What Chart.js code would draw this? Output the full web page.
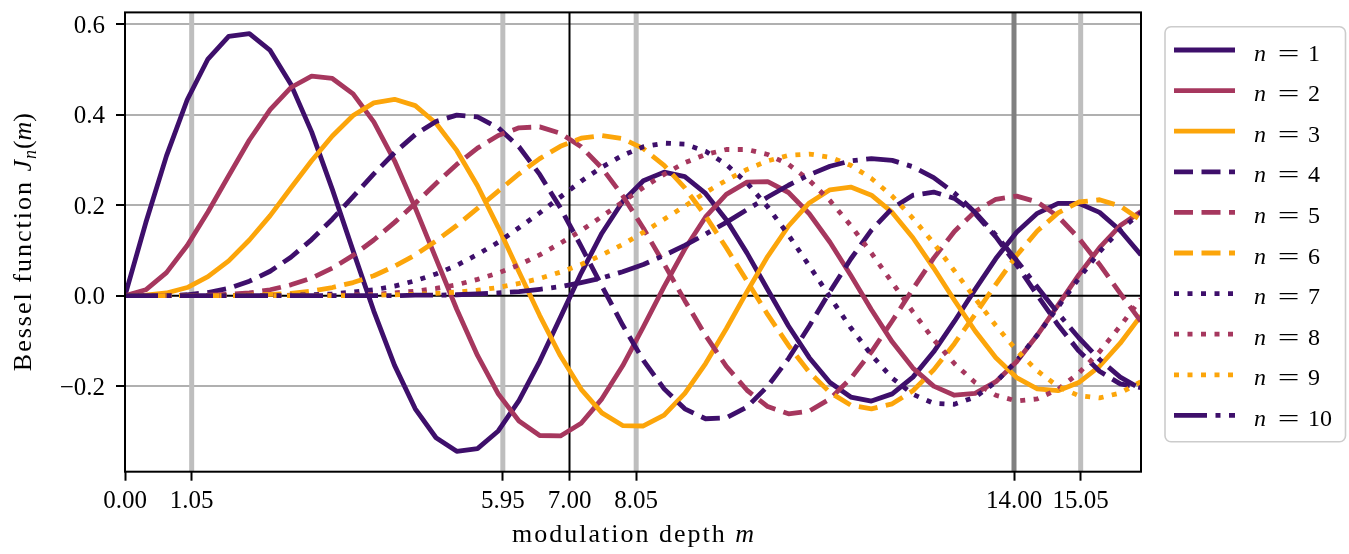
<!DOCTYPE html>
<html>
<head>
<meta charset="utf-8">
<script src="https://cdn.jsdelivr.net/npm/chart.js@4.4.1/dist/chart.umd.min.js"></script>
<style>
  html, body { margin: 0; padding: 0; background: #ffffff; overflow: hidden; }
  canvas { display: block; }
</style>
</head>
<body>
<canvas id="c" width="1349" height="554" style="width:1349px;height:554px"></canvas>
<script>
// ---------------- data ----------------
const depth = [0.000, 0.327, 0.653, 0.980, 1.306, 1.633, 1.959, 2.286, 2.612, 2.939,
               3.265, 3.592, 3.918, 4.245, 4.571, 4.898, 5.224, 5.551, 5.878, 6.204,
               6.531, 6.857, 7.184, 7.510, 7.837, 8.163, 8.490, 8.816, 9.143, 9.469,
               9.796, 10.122, 10.449, 10.776, 11.102, 11.429, 11.755, 12.082, 12.408, 12.735,
               13.061, 13.388, 13.714, 14.041, 14.367, 14.694, 15.020, 15.347, 15.673, 16.000];

const j1 = [0.000, 0.161, 0.309, 0.433, 0.523, 0.573, 0.579, 0.542, 0.467, 0.362,
            0.235, 0.099, -0.034, -0.154, -0.250, -0.314, -0.344, -0.338, -0.299, -0.232,
            -0.145, -0.048, 0.050, 0.138, 0.208, 0.254, 0.273, 0.263, 0.226, 0.168,
            0.094, 0.013, -0.067, -0.137, -0.192, -0.224, -0.233, -0.217, -0.180, -0.124,
            -0.057, 0.014, 0.082, 0.140, 0.182, 0.204, 0.204, 0.184, 0.144, 0.090];
const j2 = [0.000, 0.013, 0.051, 0.111, 0.185, 0.265, 0.344, 0.411, 0.460, 0.485,
            0.480, 0.446, 0.384, 0.298, 0.194, 0.082, -0.030, -0.132, -0.217, -0.277,
            -0.309, -0.310, -0.282, -0.228, -0.155, -0.069, 0.020, 0.103, 0.174, 0.224,
            0.251, 0.252, 0.228, 0.181, 0.118, 0.045, -0.031, -0.102, -0.160, -0.200,
            -0.220, -0.216, -0.190, -0.146, -0.087, -0.021, 0.046, 0.106, 0.155, 0.186];
const j3 = [0.000, 0.001, 0.006, 0.018, 0.042, 0.077, 0.123, 0.177, 0.238, 0.298,
            0.353, 0.398, 0.426, 0.434, 0.420, 0.381, 0.321, 0.243, 0.151, 0.053,
            -0.044, -0.133, -0.207, -0.259, -0.287, -0.288, -0.264, -0.216, -0.150, -0.073,
            0.009, 0.087, 0.154, 0.205, 0.234, 0.240, 0.222, 0.184, 0.128, 0.061,
            -0.010, -0.078, -0.137, -0.181, -0.206, -0.210, -0.192, -0.156, -0.105, -0.044];
const j4 = [0.000, 0.000, 0.000, 0.002, 0.007, 0.016, 0.032, 0.054, 0.085, 0.124,
            0.169, 0.219, 0.269, 0.316, 0.356, 0.385, 0.399, 0.395, 0.371, 0.329,
            0.268, 0.194, 0.109, 0.021, -0.065, -0.143, -0.206, -0.250, -0.272, -0.270,
            -0.246, -0.200, -0.139, -0.067, 0.009, 0.081, 0.145, 0.193, 0.222, 0.229,
            0.215, 0.181, 0.130, 0.068, 0.001, -0.065, -0.122, -0.167, -0.195, -0.203];
const j5 = [0.000, 0.000, 0.000, 0.000, 0.001, 0.003, 0.006, 0.013, 0.024, 0.039,
            0.061, 0.089, 0.123, 0.162, 0.204, 0.248, 0.290, 0.326, 0.354, 0.371,
            0.373, 0.359, 0.329, 0.282, 0.221, 0.149, 0.070, -0.011, -0.088, -0.156,
            -0.209, -0.245, -0.261, -0.255, -0.228, -0.183, -0.124, -0.056, 0.015, 0.083,
            0.142, 0.186, 0.213, 0.220, 0.207, 0.175, 0.127, 0.069, 0.005, -0.057];
const j6 = [0.000, 0.000, 0.000, 0.000, 0.000, 0.000, 0.001, 0.003, 0.005, 0.010,
            0.018, 0.029, 0.044, 0.065, 0.090, 0.121, 0.155, 0.193, 0.231, 0.269,
            0.303, 0.330, 0.348, 0.354, 0.347, 0.325, 0.288, 0.238, 0.176, 0.106,
            0.032, -0.042, -0.110, -0.169, -0.214, -0.242, -0.250, -0.239, -0.210, -0.164,
            -0.106, -0.041, 0.025, 0.089, 0.143, 0.183, 0.207, 0.212, 0.198, 0.167];
const j7 = [0.000, 0.000, 0.000, 0.000, 0.000, 0.000, 0.000, 0.000, 0.001, 0.002,
            0.004, 0.008, 0.013, 0.021, 0.033, 0.048, 0.067, 0.091, 0.118, 0.150,
            0.183, 0.218, 0.253, 0.284, 0.310, 0.329, 0.337, 0.335, 0.319, 0.290,
            0.249, 0.196, 0.134, 0.066, -0.003, -0.071, -0.131, -0.182, -0.218, -0.238,
            -0.240, -0.224, -0.191, -0.144, -0.087, -0.025, 0.038, 0.097, 0.146, 0.183];
const j8 = [0.000, 0.000, 0.000, 0.000, 0.000, 0.000, 0.000, 0.000, 0.000, 0.000,
            0.001, 0.002, 0.003, 0.006, 0.010, 0.016, 0.024, 0.036, 0.050, 0.068,
            0.090, 0.116, 0.144, 0.175, 0.207, 0.239, 0.268, 0.294, 0.312, 0.323,
            0.323, 0.312, 0.290, 0.255, 0.210, 0.155, 0.094, 0.029, -0.036, -0.097,
            -0.150, -0.192, -0.220, -0.233, -0.228, -0.207, -0.171, -0.124, -0.067, -0.007];
const j9 = [0.000, 0.000, 0.000, 0.000, 0.000, 0.000, 0.000, 0.000, 0.000, 0.000,
            0.000, 0.000, 0.001, 0.002, 0.003, 0.005, 0.008, 0.012, 0.018, 0.027,
            0.038, 0.052, 0.069, 0.090, 0.113, 0.140, 0.169, 0.198, 0.228, 0.255,
            0.279, 0.298, 0.310, 0.313, 0.306, 0.288, 0.259, 0.220, 0.171, 0.116,
            0.055, -0.006, -0.066, -0.121, -0.166, -0.201, -0.221, -0.226, -0.215, -0.190];
const j10 = [0.000, 0.000, 0.000, 0.000, 0.000, 0.000, 0.000, 0.000, 0.000, 0.000,
             0.000, 0.000, 0.000, 0.000, 0.001, 0.001, 0.002, 0.004, 0.006, 0.009,
             0.014, 0.020, 0.029, 0.039, 0.053, 0.069, 0.089, 0.111, 0.136, 0.162,
             0.190, 0.218, 0.244, 0.267, 0.286, 0.298, 0.303, 0.299, 0.285, 0.261,
             0.227, 0.184, 0.134, 0.078, 0.019, -0.039, -0.093, -0.141, -0.180, -0.206];

const orders = [1, 2, 3, 4, 5, 6, 7, 8, 9, 10];
const series = [j1, j2, j3, j4, j5, j6, j7, j8, j9, j10];
const xTicks = [0.00, 1.05, 5.95, 7.00, 8.05, 14.00, 15.05];
const yTicks = [-0.2, 0.0, 0.2, 0.4, 0.6];
const markerDepths = [1.05, 5.95, 7.00, 8.05, 14.00, 15.05];

// ---------------- styling ----------------
const SERIF = "'Liberation Serif', 'Times New Roman', serif";
const palette = ['#3e0f6b', '#a6375e', '#fca50a'];
const dashSets = [[], [19, 8.5], [5, 8.5], [33, 8.5, 5, 8.5]];
const LINE_W = 4.8;

function markerStyle(v) {
  if (v === 7) return { color: '#000000', width: 2 };
  if (v === 14) return { color: '#808080', width: 5 };
  return { color: '#bebebe', width: 5 };
}

function setLS(ctx, px) {
  if ('letterSpacing' in ctx) ctx.letterSpacing = px + 'px';
}

function drawPieces(ctx, pieces, cx, baseY) {
  let total = 0;
  pieces.forEach(p => {
    ctx.font = p.font; setLS(ctx, p.ls || 0);
    p.w = ctx.measureText(p.t).width + (p.after || 0);
    total += p.w;
  });
  let x = cx - total / 2;
  pieces.forEach(p => {
    ctx.font = p.font; setLS(ctx, p.ls || 0);
    ctx.fillText(p.t, x, baseY + (p.dy || 0));
    x += p.w;
  });
  setLS(ctx, 0);
}

const decor = {
  id: 'decor',
  beforeDatasetsDraw(chart) {
    const { ctx, chartArea: a, scales: { x, y } } = chart;
    ctx.save();
    ctx.beginPath();
    ctx.rect(a.left, a.top, a.right - a.left, a.bottom - a.top);
    ctx.clip();
    markerDepths.forEach(v => {
      const st = markerStyle(v);
      const px = x.getPixelForValue(v);
      ctx.strokeStyle = st.color;
      ctx.lineWidth = st.width;
      ctx.beginPath();
      ctx.moveTo(px, a.top);
      ctx.lineTo(px, a.bottom);
      ctx.stroke();
    });
    const py = y.getPixelForValue(0);
    ctx.strokeStyle = '#000000';
    ctx.lineWidth = 2;
    ctx.beginPath();
    ctx.moveTo(a.left, py);
    ctx.lineTo(a.right, py);
    ctx.stroke();
    ctx.restore();
  },
  afterDatasetsDraw(chart) {
    const { ctx, chartArea: a } = chart;
    ctx.save();
    ctx.strokeStyle = '#000000';
    ctx.lineWidth = 2;
    ctx.strokeRect(a.left, a.top, a.right - a.left, a.bottom - a.top);
    ctx.restore();
  },
  afterDraw(chart) {
    const { ctx, chartArea: a } = chart;
    ctx.save();
    ctx.fillStyle = '#000000';
    ctx.textBaseline = 'alphabetic';
    ctx.textAlign = 'left';

    // x axis title
    drawPieces(ctx, [
      { t: 'modulation depth ', font: '26px ' + SERIF, ls: 2 },
      { t: 'm', font: 'italic 26px ' + SERIF }
    ], (a.left + a.right) / 2, 541.5);

    // y axis title (rotated)
    ctx.save();
    ctx.translate(30.5, (a.top + a.bottom) / 2);
    ctx.rotate(-Math.PI / 2);
    drawPieces(ctx, [
      { t: 'Bessel function ', font: '26px ' + SERIF, ls: 2 },
      { t: 'J', font: 'italic 26px ' + SERIF, after: 1 },
      { t: 'n', font: 'italic 18px ' + SERIF, dy: 5, after: 1 },
      { t: '(', font: '26px ' + SERIF },
      { t: 'm', font: 'italic 26px ' + SERIF },
      { t: ')', font: '26px ' + SERIF }
    ], 0, 0);
    ctx.restore();

    // legend frame
    const bx = 1165, by = 26.7, bw = 180.5, bh = 415, r = 6;
    ctx.beginPath();
    ctx.moveTo(bx + r, by);
    ctx.lineTo(bx + bw - r, by);
    ctx.arcTo(bx + bw, by, bx + bw, by + r, r);
    ctx.lineTo(bx + bw, by + bh - r);
    ctx.arcTo(bx + bw, by + bh, bx + bw - r, by + bh, r);
    ctx.lineTo(bx + r, by + bh);
    ctx.arcTo(bx, by + bh, bx, by + bh - r, r);
    ctx.lineTo(bx, by + r);
    ctx.arcTo(bx, by, bx + r, by, r);
    ctx.closePath();
    ctx.fillStyle = '#ffffff';
    ctx.fill();
    ctx.strokeStyle = '#cccccc';
    ctx.lineWidth = 1.6;
    ctx.stroke();

    // legend entries
    chart.data.datasets.forEach((ds, i) => {
      const ly = 50 + i * 40.6;
      ctx.save();
      ctx.strokeStyle = ds.borderColor;
      ctx.lineWidth = ds.borderWidth;
      ctx.lineCap = 'butt';
      ctx.setLineDash(ds.borderDash);
      ctx.beginPath();
      ctx.moveTo(1174, ly);
      ctx.lineTo(1235, ly);
      ctx.stroke();
      ctx.restore();
      ctx.fillStyle = '#000000';
      ctx.textAlign = 'left';
      ctx.font = 'italic 24px ' + SERIF;
      ctx.fillText('n', 1254, ly + 10.5);
      ctx.save();
      ctx.translate(1288.5, ly + 10.5);
      ctx.scale(1.6, 1);
      ctx.textAlign = 'center';
      ctx.font = '24px ' + SERIF;
      ctx.fillText('=', 0, 0);
      ctx.restore();
      ctx.textAlign = 'left';
      ctx.font = '24px ' + SERIF;
      ctx.fillText(String(orders[i]), 1308, ly + 10.5);
    });
    ctx.restore();
  }
};

const datasets = series.map((vals, i) => ({
  label: 'n = ' + orders[i],
  data: vals.map((v, k) => ({ x: depth[k], y: v })),
  borderColor: palette[i % 3],
  borderWidth: LINE_W,
  borderDash: dashSets[Math.floor(i / 3)],
  borderCapStyle: 'butt',
  borderJoinStyle: 'round',
  pointRadius: 0,
  pointHoverRadius: 0,
  tension: 0,
  fill: false,
  clip: 0,
  order: series.length - i
}));

Chart.defaults.font.family = SERIF;
Chart.defaults.color = '#000000';

new Chart(document.getElementById('c'), {
  type: 'line',
  data: { datasets },
  options: {
    responsive: false,
    maintainAspectRatio: false,
    devicePixelRatio: 1,
    animation: false,
    events: [],
    layout: { padding: { top: 12.4, right: 208, bottom: 0, left: 0 } },
    plugins: { legend: { display: false }, tooltip: { enabled: false }, title: { display: false } },
    scales: {
      x: {
        type: 'linear',
        min: 0,
        max: 16,
        afterBuildTicks: s => { s.ticks = xTicks.map(v => ({ value: v })); },
        afterFit: s => { s.height = 82.3; s.paddingLeft = 0; s.paddingRight = 0; },
        border: { display: false },
        grid: { drawOnChartArea: false, drawTicks: true, tickLength: 9, tickColor: '#000000', tickWidth: 2 },
        ticks: {
          autoSkip: false, maxRotation: 0, minRotation: 0, padding: 6, color: '#000000',
          font: { family: SERIF, size: 25 },
          callback: v => Number(v).toFixed(2)
        }
      },
      y: {
        type: 'linear',
        min: -0.389,
        max: 0.626,
        afterBuildTicks: s => { s.ticks = yTicks.map(v => ({ value: v })); },
        afterFit: s => { s.width = 125; s.paddingTop = 0; s.paddingBottom = 0; },
        border: { display: false },
        grid: {
          color: c => (c.tick && Math.abs(c.tick.value) < 1e-9) ? 'rgba(0,0,0,0)' : '#b0b0b0',
          lineWidth: 2, drawTicks: true, tickLength: 9, tickColor: '#000000', tickWidth: 2
        },
        ticks: {
          padding: 11, labelOffset: 2, color: '#000000',
          font: { family: SERIF, size: 25 },
          callback: v => (v < -1e-9 ? '\u2212' : '') + Math.abs(v).toFixed(1)
        }
      }
    }
  },
  plugins: [decor]
});
</script>
</body>
</html>
